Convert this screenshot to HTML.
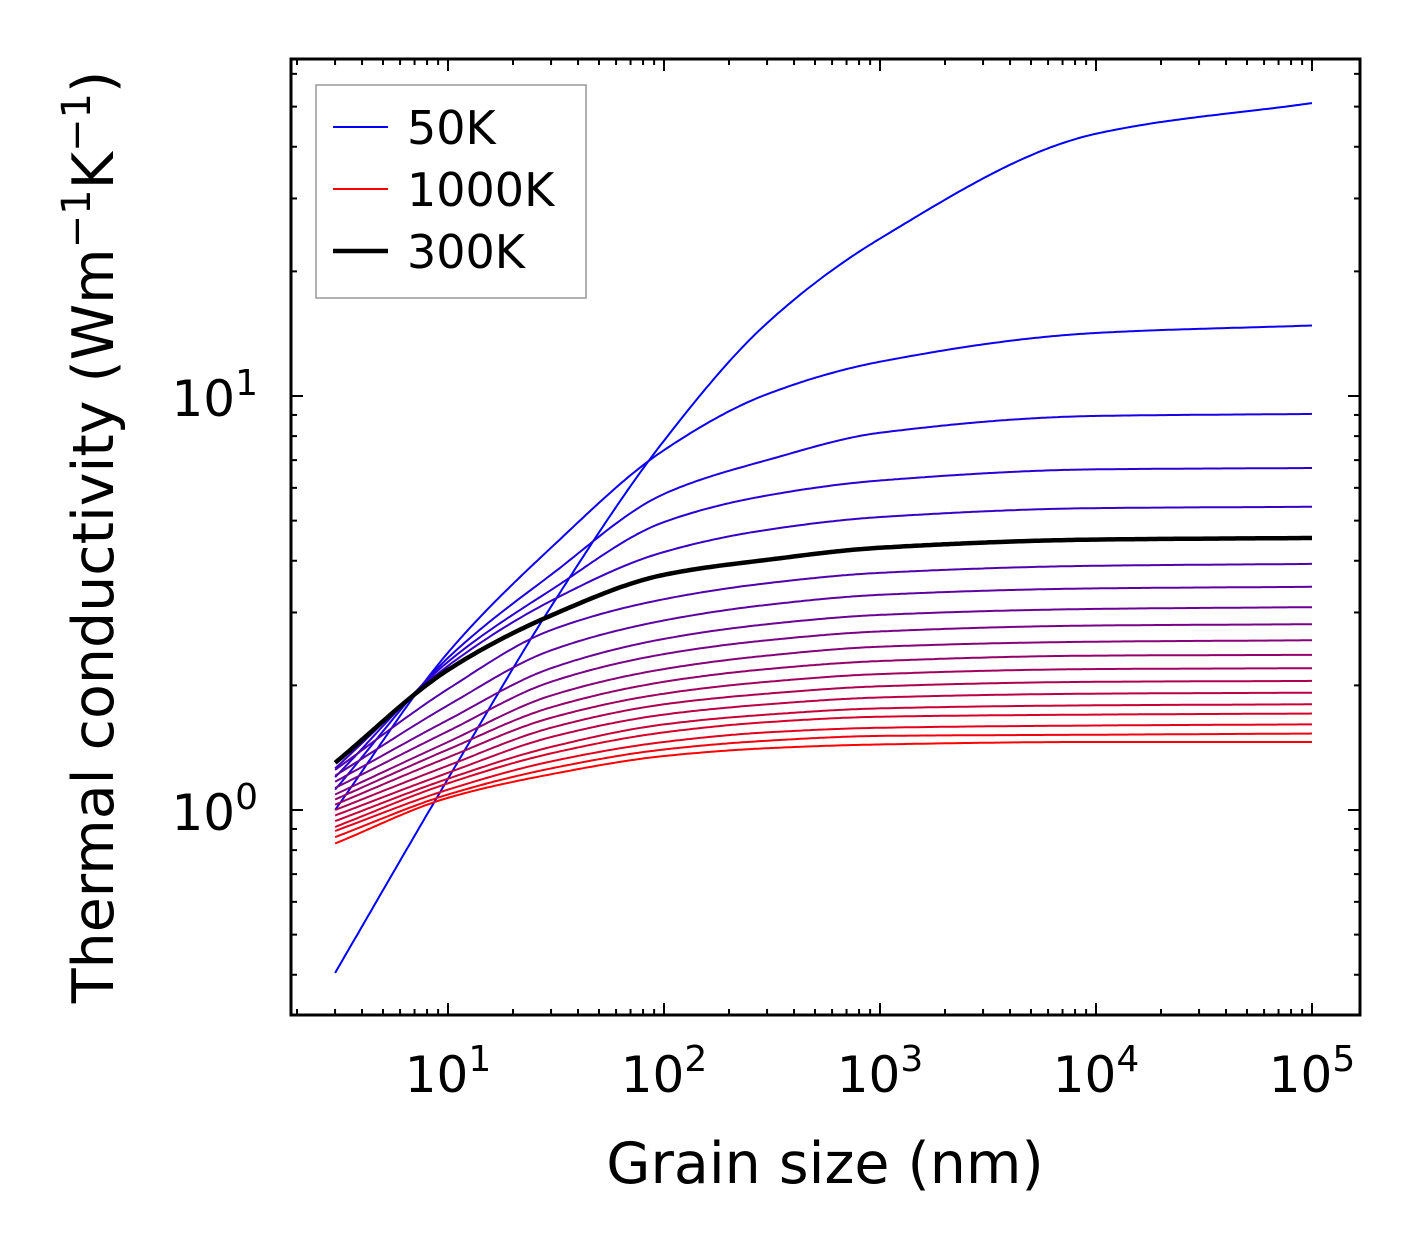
<!DOCTYPE html>
<html><head><meta charset="utf-8"><style>
html,body{margin:0;padding:0;background:#fff;}
svg text{font-family:"DejaVu Sans","Liberation Sans",sans-serif;fill:#000;}
</style></head><body>
<svg id="chart" width="1421" height="1254" viewBox="0 0 1421 1254" xmlns="http://www.w3.org/2000/svg">
<g id="curves"></g>
<g id="ticks"></g>
<rect x="291" y="59" width="1069" height="956" fill="none" stroke="#000" stroke-width="3"/>
<g id="legend">
<rect x="316" y="85" width="270" height="213" fill="#fff" stroke="#999" stroke-width="1.5"/>
<line x1="333" x2="388" y1="127" y2="127" stroke="#0000ff" stroke-width="2"/>
<text x="407" y="144" font-size="46">50K</text>
<line x1="333" x2="388" y1="189" y2="189" stroke="#ff0000" stroke-width="2"/>
<text x="407" y="206" font-size="46">1000K</text>
<line x1="333" x2="388" y1="251" y2="251" stroke="#000" stroke-width="4.5"/>
<text x="407" y="268" font-size="46">300K</text>
</g>
<text x="825" y="1183" font-size="57" text-anchor="middle">Grain size (nm)</text>
<text transform="translate(113,537) rotate(-90)" font-size="57" text-anchor="middle">Thermal conductivity (Wm<tspan dy="-23" font-size="40">−1</tspan><tspan dy="23">K</tspan><tspan dy="-23" font-size="40">−1</tspan><tspan dy="23">)</tspan></text>
</svg>
<script>
const xSamples = [3, 10, 30, 100, 300, 1000, 10000, 100000];
const temps = [50,100,150,200,250,300,350,400,450,500,550,600,650,700,750,800,850,900,950,1000];
const k50 = [0.404, 1.19, 3.1, 7.8, 15.0, 24.0, 43, 51];
const k100 = [1.0, 2.4, 4.3, 7.4, 10.1, 12.1, 14.2, 14.8];
const k150 = [1.12, 2.33, 3.7, 5.8, 7.0, 8.15, 8.95, 9.05];
const k200 = [1.2, 2.28, 3.4, 4.96, 5.75, 6.25, 6.65, 6.7];
const k250 = [1.26, 2.23, 3.2, 4.2, 4.75, 5.1, 5.36, 5.4];
const k300 = [1.30, 2.18, 2.95, 3.70, 4.02, 4.30, 4.50, 4.54];
const k350 = [1.25, 1.96, 2.72, 3.23, 3.53, 3.74, 3.89, 3.93];
const k400 = [1.21, 1.79, 2.43, 2.87, 3.13, 3.31, 3.43, 3.46];
const k450 = [1.17, 1.65, 2.20, 2.59, 2.81, 2.96, 3.06, 3.09];
const k500 = [1.13, 1.55, 2.04, 2.38, 2.57, 2.70, 2.79, 2.81];
const k550 = [1.09, 1.46, 1.89, 2.19, 2.36, 2.48, 2.55, 2.57];
const k600 = [1.06, 1.40, 1.77, 2.04, 2.19, 2.29, 2.36, 2.37];
const k650 = [1.03, 1.34, 1.67, 1.91, 2.04, 2.13, 2.19, 2.20];
const k700 = [1.00, 1.28, 1.58, 1.80, 1.91, 1.99, 2.04, 2.05];
const k750 = [0.97, 1.23, 1.50, 1.70, 1.80, 1.87, 1.91, 1.92];
const k800 = [0.94, 1.19, 1.42, 1.61, 1.70, 1.76, 1.79, 1.80];
const k850 = [0.91, 1.16, 1.37, 1.54, 1.63, 1.68, 1.70, 1.71];
const k900 = [0.89, 1.12, 1.31, 1.46, 1.54, 1.58, 1.60, 1.61];
const k950 = [0.86, 1.09, 1.26, 1.40, 1.47, 1.51, 1.52, 1.53];
const k1000 = [0.83, 1.07, 1.22, 1.35, 1.41, 1.44, 1.46, 1.46];
const series = [k50,k100,k150,k200,k250,k300,k350,k400,k450,k500,k550,k600,k650,k700,k750,k800,k850,k900,k950,k1000];
const xTickLabels = ["1", "2", "3", "4", "5"];
const yTickLabels = ["0", "1"];

const NS = "http://www.w3.org/2000/svg";
const X0 = 448, XD = 216;
const Y0 = 810, YD = 414;
function xs(v){ return X0 + (Math.log10(v) - 1) * XD; }
function ys(v){ return Y0 - Math.log10(v) * YD; }

function pchip(xa, ya, x){
  const n = xa.length;
  const h = [], d = [];
  for (let i=0;i<n-1;i++){ h.push(xa[i+1]-xa[i]); d.push((ya[i+1]-ya[i])/h[i]); }
  const m = new Array(n);
  m[0] = d[0]; m[n-1] = d[n-2];
  for (let i=1;i<n-1;i++){
    if (d[i-1]*d[i] <= 0) m[i] = 0;
    else { const w1 = 2*h[i]+h[i-1], w2 = h[i]+2*h[i-1]; m[i] = (w1+w2)/(w1/d[i-1]+w2/d[i]); }
  }
  let i = 0; while (i < n-2 && x > xa[i+1]) i++;
  const t = (x - xa[i]) / h[i], t2=t*t, t3=t2*t;
  return (2*t3-3*t2+1)*ya[i] + (t3-2*t2+t)*h[i]*m[i] + (-2*t3+3*t2)*ya[i+1] + (t3-t2)*h[i]*m[i+1];
}

const curves = document.getElementById('curves');
const lx = xSamples.map(v => Math.log10(v));
let blackPath = null;
series.forEach((vals, idx) => {
  const ly = vals.map(v => Math.log10(v));
  let d = "";
  for (let s=0; s<=300; s++){
    const l = lx[0] + (lx[lx.length-1]-lx[0]) * s/300;
    const v = Math.pow(10, pchip(lx, ly, l));
    d += (s? "L":"M") + xs(Math.pow(10,l)).toFixed(1) + "," + ys(v).toFixed(1);
  }
  const p = document.createElementNS(NS, 'path');
  p.setAttribute('d', d);
  p.setAttribute('fill', 'none');
  const T = temps[idx];
  
  
  if (T === 300){
    p.setAttribute('stroke', '#000'); p.setAttribute('stroke-width', '4.5');
    blackPath = p;
  } else {
    const t = idx/(series.length-1);
    p.setAttribute('stroke', `rgb(${Math.round(255*t)},0,${Math.round(255*(1-t))})`);
    p.setAttribute('stroke-width', '2');
    curves.appendChild(p);
  }
});
if (blackPath) curves.appendChild(blackPath);

const ticks = document.getElementById('ticks');
function line(x1,y1,x2,y2,name){
  const l = document.createElementNS(NS,'line');
  l.setAttribute('x1',x1); l.setAttribute('y1',y1); l.setAttribute('x2',x2); l.setAttribute('y2',y2);
  l.setAttribute('stroke','#000'); l.setAttribute('stroke-width','2');
  
  
  ticks.appendChild(l);
}
function label(x,y,base,exp,name,anchor){
  const t = document.createElementNS(NS,'text');
  t.setAttribute('x',x); t.setAttribute('y',y); t.setAttribute('font-size','50');
  t.setAttribute('text-anchor',anchor);
  
  
  t.innerHTML = base + '<tspan dy="-21" font-size="36">' + exp + '</tspan>';
  ticks.appendChild(t);
}
for (let e=0; e<=5; e++){
  for (let m=1; m<10; m++){
    const v = m*Math.pow(10,e);
    const x = xs(v);
    if (x < 291 || x > 1360) continue;
    const len = m===1 ? 12 : 6;
    line(x,1015,x,1015-len,'x-tick');
    line(x,59,x,59+len,'x-tick-top');
  }
}
xTickLabels.forEach(s => label(xs(Math.pow(10, +s)), 1092, "10", s, 'x-tick-label', 'middle'));
for (let e=-1; e<=1; e++){
  for (let m=1; m<10; m++){
    const v = m*Math.pow(10,e);
    const y = ys(v);
    if (y < 59 || y > 1015) continue;
    const len = m===1 ? 12 : 6;
    line(291,y,291+len,y,'y-tick');
    line(1360,y,1360-len,y,'y-tick-right');
  }
}
yTickLabels.forEach(s => label(258, ys(Math.pow(10,+s))+20, "10", s, 'y-tick-label', 'end'));
</script>
</body></html>
